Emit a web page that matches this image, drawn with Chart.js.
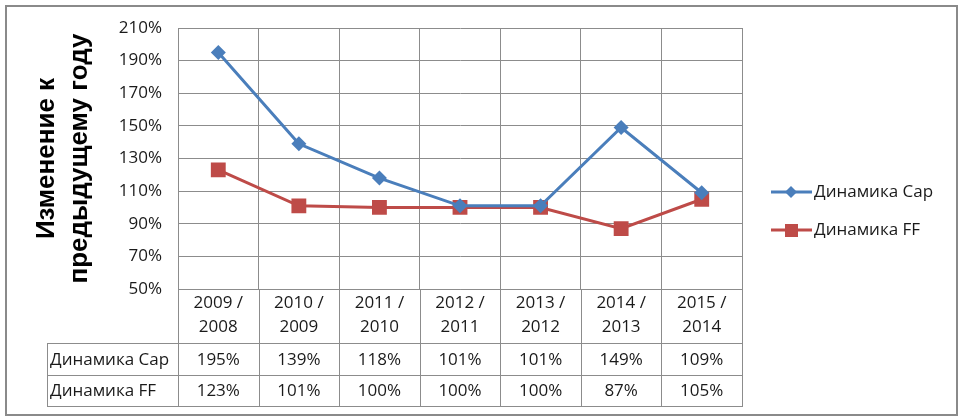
<!DOCTYPE html>
<html>
<head>
<meta charset="utf-8">
<script src="https://cdn.jsdelivr.net/npm/chart.js@4/dist/chart.umd.min.js"></script>
<style>
  html,body{margin:0;padding:0;background:#fff;}
  #wrap{width:963px;height:420px;}
</style>
</head>
<body>
<div id="wrap"><canvas id="c" width="963" height="420"></canvas></div>
<script>
const categories = [['2009 /','2008'],['2010 /','2009'],['2011 /','2010'],['2012 /','2011'],['2013 /','2012'],['2014 /','2013'],['2015 /','2014']];
const capValues = [195,139,118,101,101,149,109];
const ffValues = [123,101,100,100,100,87,105];
const seriesNames = ['Динамика Cap','Динамика FF'];
const yTitle = ['Изменение к','предыдущему году'];
const yMin = 50, yMax = 210, yStep = 20;

const BLUE = '#4a7ebb', RED = '#be4b48', GRID = '#8c8c8c';
const FONT = "'Open Sans', 'Noto Sans', sans-serif";
const TXT = '#1a1a1a';

const framePlugin = {
  id:'frame',
  beforeDraw(chart){
    const ctx = chart.ctx;
    ctx.save();
    ctx.fillStyle = '#fff';
    ctx.fillRect(0,0,chart.width,chart.height);
    ctx.strokeStyle = '#8a8a8a';
    ctx.lineWidth = 2;
    ctx.strokeRect(6,6,951,409);
    ctx.restore();
  }
};

const tablePlugin = {
  id:'table',
  afterDraw(chart){
    const ctx = chart.ctx, x = chart.scales.x, a = chart.chartArea;
    const bottom = x.bottom, rowH = (x.bottom - a.bottom - 54) / 2;
    const r1 = bottom - 2*rowH, r2 = bottom - rowH;
    const leftCol = a.left - 131;
    const n = categories.length, w = (a.right - a.left)/n;
    ctx.save();
    ctx.strokeStyle = GRID; ctx.lineWidth = 1;
    ctx.beginPath();
    for(let i=0;i<=n;i++){
      const bx = Math.round(a.left + i*w) + 0.5;
      ctx.moveTo(bx, a.bottom); ctx.lineTo(bx, bottom);
    }
    ctx.moveTo(leftCol+0.5, r1); ctx.lineTo(leftCol+0.5, bottom);
    [r1, r2, bottom].forEach(yy=>{ const y=Math.round(yy)+0.5; ctx.moveTo(leftCol, y); ctx.lineTo(a.right+1, y); });
    ctx.stroke();
    ctx.fillStyle = TXT;
    ctx.font = '17px ' + FONT;
    ctx.textBaseline = 'middle';
    const rows = [capValues, ffValues];
    rows.forEach((vals, ri)=>{
      const cy = r1 + rowH*ri + rowH/2 + 1;
      ctx.textAlign = 'left';
      ctx.fillText(seriesNames[ri], leftCol + 3, cy);
      ctx.textAlign = 'center';
      vals.forEach((v,i)=> ctx.fillText(v + '%', x.getPixelForValue(i), cy));
    });
    // legend
    const lx = 771, ly = [192, 230];
    [BLUE, RED].forEach((col, i)=>{
      ctx.strokeStyle = col; ctx.lineWidth = 3;
      ctx.beginPath(); ctx.moveTo(lx, ly[i]); ctx.lineTo(lx+41, ly[i]); ctx.stroke();
      ctx.fillStyle = col;
      if(i===0){
        ctx.beginPath(); ctx.moveTo(lx+20, ly[i]-6); ctx.lineTo(lx+26, ly[i]); ctx.lineTo(lx+20, ly[i]+6); ctx.lineTo(lx+14, ly[i]); ctx.closePath(); ctx.fill();
      } else {
        ctx.fillRect(lx+14, ly[i]-6, 13, 13);
      }
      ctx.fillStyle = TXT;
      ctx.font = '17px ' + FONT;
      ctx.textAlign = 'left';
      ctx.fillText(seriesNames[i], lx+43, ly[i]);
    });
    ctx.restore();
  }
};

new Chart(document.getElementById('c'), {
  type:'line',
  data:{
    labels: categories,
    datasets:[
      {label: seriesNames[0], data: capValues, borderColor: BLUE, backgroundColor: BLUE, borderWidth:3,
       pointStyle:'rectRot', pointRadius:7.5, pointHoverRadius:7.5, pointBorderWidth:0, tension:0},
      {label: seriesNames[1], data: ffValues, borderColor: RED, backgroundColor: RED, borderWidth:3,
       pointStyle:'rect', pointRadius:10.5, pointHoverRadius:10.5, pointBorderWidth:0, tension:0}
    ]
  },
  options:{
    responsive:false,
    animation:false,
    events:[],
    layout:{padding:{left:10, top:28, right:221, bottom:14}},
    plugins:{legend:{display:false}, tooltip:{enabled:false}},
    scales:{
      x:{
        offset:true,
        grid:{offset:true, color:GRID, drawTicks:false},
        border:{color:GRID},
        ticks:{font:{family:FONT, size:17, lineHeight:1.41}, color:TXT, padding:2, maxRotation:0, autoSkip:false},
        afterFit(s){ s.height = 117; }
      },
      y:{
        min:yMin, max:yMax,
        grid:{color:GRID, drawTicks:false},
        border:{color:GRID},
        ticks:{stepSize:yStep, font:{family:FONT, size:17}, color:TXT, padding:16, callback:v=>v+'%'},
        title:{display:true, text:yTitle, font:{family:"'Liberation Sans', Arial, sans-serif", size:26, weight:'bold', lineHeight:1.27}, color:'#000', padding:{top:20, bottom:0}},
        afterFit(s){ s.width = 168; }
      }
    }
  },
  plugins:[framePlugin, tablePlugin]
});
</script>
</body>
</html>
